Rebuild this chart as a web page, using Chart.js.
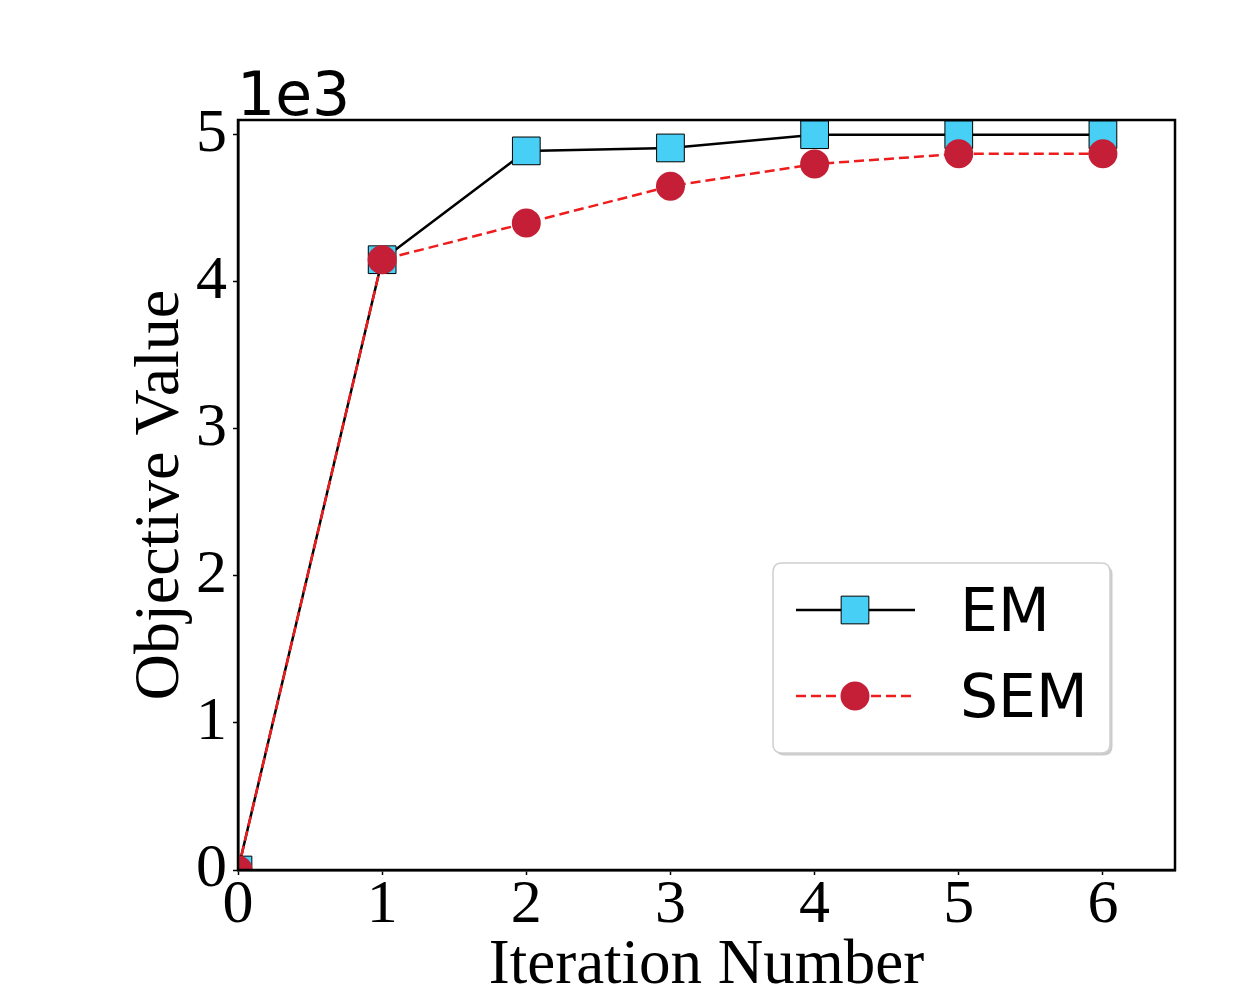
<!DOCTYPE html>
<html>
<head>
<meta charset="utf-8">
<script src="https://cdn.jsdelivr.net/npm/chart.js@4.4.1/dist/chart.umd.min.js"></script>
<style>
html,body{margin:0;padding:0;background:#fff;}
#wrap{width:1250px;height:1000px;}
</style>
</head>
<body>
<div id="wrap"><canvas id="c" width="1250" height="1000"></canvas></div>
<script>
// ---- data ----
const iterations = [0, 1, 2, 3, 4, 5, 6];
const emValues   = [0, 4150, 4890, 4910, 5000, 5000, 5000];
const semValues  = [0, 4150, 4400, 4650, 4800, 4870, 4870];
const seriesNames = ['EM', 'SEM'];
const xTickValues = [0, 1, 2, 3, 4, 5, 6];
const yTickValues = [0, 1000, 2000, 3000, 4000, 5000];
const xTitle = 'Iteration Number';
const yTitle = 'Objective Value';
const yScaleLabel = '1e3';

const serif = "'Liberation Serif', 'Times New Roman', serif";
const sans = "'DejaVu Sans', sans-serif";

const emStyle = {
  borderColor: '#000000', borderWidth: 2.5,
  pointStyle: 'rect', pointRadius: 19.6, pointHoverRadius: 19.6,
  pointBackgroundColor: '#48cff5', pointBorderColor: '#000000', pointBorderWidth: 1
};
const semStyle = {
  borderColor: '#ee1c1c', borderWidth: 2.5, borderDash: [10, 5],
  pointStyle: 'circle', pointRadius: 14.5, pointHoverRadius: 14.5,
  pointBackgroundColor: '#c41f36', pointBorderColor: '#c41f36', pointBorderWidth: 0
};

const toXY = (xs, ys) => xs.map((x, i) => ({x: x, y: ys[i]}));

const framePlugin = {
  id: 'frame',
  afterDatasetsDraw(chart) {
    const {ctx, chartArea: a} = chart;
    ctx.save();
    ctx.strokeStyle = '#000';
    ctx.lineWidth = 2.5;
    ctx.strokeRect(a.left, a.top, a.right - a.left, a.bottom - a.top);
    ctx.restore();
  },
  afterDraw(chart) {
    const {ctx, chartArea: a} = chart;
    ctx.save();
    ctx.fillStyle = '#000';
    ctx.font = "60px " + sans;
    ctx.textAlign = 'left';
    ctx.textBaseline = 'alphabetic';
    ctx.fillText(yScaleLabel, a.left - 1, a.top - 5);

    // legend box
    const bx = a.right - 402, by = a.top + 443, bw = 337, bh = 190, r = 9;
    const rr = (x, y, w, h) => {
      ctx.beginPath();
      ctx.moveTo(x + r, y);
      ctx.lineTo(x + w - r, y); ctx.quadraticCurveTo(x + w, y, x + w, y + r);
      ctx.lineTo(x + w, y + h - r); ctx.quadraticCurveTo(x + w, y + h, x + w - r, y + h);
      ctx.lineTo(x + r, y + h); ctx.quadraticCurveTo(x, y + h, x, y + h - r);
      ctx.lineTo(x, y + r); ctx.quadraticCurveTo(x, y, x + r, y);
      ctx.closePath();
    };
    ctx.save();
    ctx.fillStyle = '#999';
    ctx.globalAlpha = 0.5;
    rr(bx + 2.5, by + 2.5, bw, bh);
    ctx.fill();
    ctx.restore();
    rr(bx, by, bw, bh);
    ctx.fillStyle = '#fff';
    ctx.fill();
    ctx.strokeStyle = '#d0d0d0';
    ctx.lineWidth = 1.5;
    ctx.stroke();

    const rows = [
      {name: seriesNames[0], s: emStyle, y: by + 47},
      {name: seriesNames[1], s: semStyle, y: by + 133}
    ];
    const lx0 = bx + 23, lx1 = bx + 142, mx = bx + 82;
    rows.forEach(row => {
      const s = row.s;
      ctx.save();
      ctx.strokeStyle = s.borderColor;
      ctx.lineWidth = s.borderWidth;
      ctx.setLineDash(s.borderDash || []);
      ctx.beginPath();
      ctx.moveTo(lx0, row.y); ctx.lineTo(lx1, row.y);
      ctx.stroke();
      ctx.restore();
      ctx.save();
      ctx.fillStyle = s.pointBackgroundColor;
      ctx.strokeStyle = s.pointBorderColor;
      ctx.lineWidth = s.pointBorderWidth;
      ctx.beginPath();
      if (s.pointStyle === 'rect') {
        const h = s.pointRadius * Math.SQRT1_2;
        ctx.rect(mx - h, row.y - h, 2 * h, 2 * h);
        ctx.fill();
        if (s.pointBorderWidth) ctx.stroke();
      } else {
        ctx.arc(mx, row.y, s.pointRadius, 0, Math.PI * 2);
        ctx.fill();
      }
      ctx.restore();
      ctx.fillStyle = '#000';
      ctx.font = "60px " + sans;
      ctx.textAlign = 'left';
      ctx.textBaseline = 'alphabetic';
      ctx.fillText(row.name, bx + 187, row.y + 21);
    });
    ctx.restore();
  }
};

new Chart(document.getElementById('c'), {
  type: 'line',
  data: {
    datasets: [
      Object.assign({label: seriesNames[0], data: toXY(iterations, emValues), order: 1, fill: false, tension: 0}, emStyle),
      Object.assign({label: seriesNames[1], data: toXY(iterations, semValues), order: 0, fill: false, tension: 0}, semStyle)
    ]
  },
  options: {
    responsive: false,
    devicePixelRatio: 1,
    animation: false,
    layout: {padding: {left: 0, right: 75, top: 120, bottom: 0}},
    plugins: {legend: {display: false}, tooltip: {enabled: false}},
    scales: {
      x: {
        type: 'linear', min: 0, max: 6.5,
        afterFit(s) { s.height = 130; },
        afterBuildTicks(s) { s.ticks = xTickValues.map(v => ({value: v})); },
        ticks: {color: '#000', padding: 0,
                font: {family: serif, size: 62, lineHeight: 1}, maxRotation: 0, autoSkip: false,
                callback: v => String(v)},
        grid: {drawOnChartArea: false, drawTicks: true, tickLength: 5, tickWidth: 1.5, tickColor: '#000'},
        border: {display: true, color: '#000', width: 2.5},
        title: {display: true, text: xTitle, color: '#000',
                font: {family: serif, size: 63, lineHeight: 1.2}, padding: {top: 0, bottom: -4}}
      },
      y: {
        type: 'linear', min: 0, max: 5100,
        afterFit(s) { s.width = 238; },
        afterBuildTicks(s) { s.ticks = yTickValues.map(v => ({value: v})); },
        ticks: {color: '#000', padding: 6, autoSkip: false,
                font: {family: serif, size: 62, lineHeight: 1},
                callback: v => String(v / 1000)},
        grid: {drawOnChartArea: false, drawTicks: true, tickLength: 5, tickWidth: 1.5, tickColor: '#000'},
        border: {display: true, color: '#000', width: 2.5},
        title: {display: true, text: yTitle, color: '#000',
                font: {family: serif, size: 64, lineHeight: 1.2}, padding: {top: 123, bottom: 0}}
      }
    }
  },
  plugins: [framePlugin]
});
</script>
</body>
</html>
